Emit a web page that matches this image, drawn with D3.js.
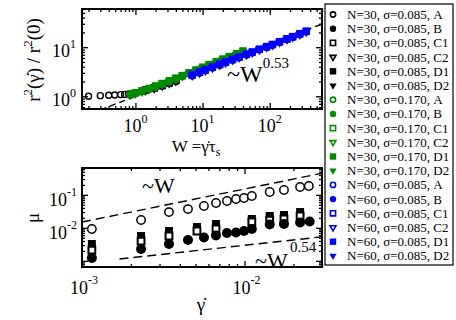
<!DOCTYPE html>
<html>
<head>
<meta charset="utf-8">
<script src="https://cdn.jsdelivr.net/npm/d3@7"></script>
<style>
  body { margin: 0; background: #fff; }
  svg { display: block; }
  text { font-family: "Liberation Serif", "DejaVu Serif", serif; fill: #000; }
</style>
</head>
<body>
<svg id="chart" width="456" height="320"></svg>
<script>
// ---------- data ----------
const seriesNames = ["A", "B", "C1", "C2", "D1", "D2"];
const groupLabels = ["N=30, σ=0.085", "N=30, σ=0.170", "N=60, σ=0.085"];

// top panel: r^2(gamma)/r^2(0) vs W
const blackW = [0.2, 0.3, 0.4, 0.49, 0.6, 0.69, 0.79, 0.87, 0.97, 1.4, 1.9, 2.5, 3.2, 4.0];
const blackR2 = [
  [1.00, 1.03, 1.05, 1.06, 1.08, 1.09, 1.12, 1.13, 1.17, 1.33, 1.48, 1.65, 1.85, 2.05],
  [null, null, null, null, null, null, null, null, null, 1.28, 1.42, 1.60, 1.80, 2.00],
  [null, null, null, null, null, null, null, null, null, 1.32, 1.47, 1.66, 1.87, 2.08],
  [null, null, null, null, null, null, null, null, null, 1.30, 1.45, 1.63, 1.83, 2.03],
  [null, null, null, null, null, null, null, null, null, 1.35, 1.50, 1.70, 1.92, 2.12],
  [null, null, null, null, null, null, null, null, null, 1.31, 1.46, 1.65, 1.86, 2.06]
];
const greenW = [0.85, 1.0, 1.25, 1.6, 2.0, 2.5, 3.2, 4.0, 5.0, 6.3, 8.0, 10, 12.5, 16, 20, 25, 32, 40];
const greenR2 = [
  [1.08, 1.14, 1.25, 1.40, 1.56, 1.76, 2.00, 2.25, 2.55, 2.90, 3.30, 3.75, 4.25, 4.85, 5.50, 6.20, 7.10, 8.00],
  [1.05, 1.12, 1.23, 1.38, 1.54, 1.73, 1.97, 2.22, 2.52, 2.86, 3.25, 3.70, 4.20, 4.80, 5.45, 6.10, 7.00, 7.90],
  [1.10, 1.17, 1.28, 1.43, 1.60, 1.80, 2.05, 2.30, 2.62, 2.98, 3.40, 3.85, 4.38, 5.00, 5.65, 6.40, 7.30, 8.25],
  [1.07, 1.13, 1.24, 1.39, 1.55, 1.75, 1.99, 2.24, 2.54, 2.88, 3.28, 3.72, 4.22, 4.82, 5.48, 6.15, 7.05, 7.95],
  [1.12, 1.19, 1.30, 1.46, 1.63, 1.84, 2.09, 2.35, 2.67, 3.04, 3.47, 3.93, 4.47, 5.10, 5.78, 6.52, 7.45, 8.40],
  [1.09, 1.16, 1.27, 1.42, 1.58, 1.78, 2.03, 2.28, 2.59, 2.95, 3.36, 3.80, 4.32, 4.93, 5.58, 6.32, 7.20, 8.15]
];
const blueW = [7, 9, 11, 14, 18, 22, 28, 35, 45, 55, 70, 90, 110, 140, 180, 220, 280, 350];
const blueR2 = [
  [2.65, 3.00, 3.35, 3.80, 4.35, 4.85, 5.50, 6.15, 7.00, 7.75, 8.85, 10.0, 11.1, 12.6, 14.4, 16.0, 18.2, 20.6],
  [2.60, 2.95, 3.30, 3.75, 4.28, 4.78, 5.42, 6.05, 6.90, 7.65, 8.72, 9.90, 10.9, 12.4, 14.2, 15.8, 17.9, 20.3],
  [2.72, 3.08, 3.44, 3.90, 4.45, 4.97, 5.62, 6.28, 7.15, 7.92, 9.02, 10.2, 11.3, 12.9, 14.7, 16.3, 18.6, 21.0],
  [2.62, 2.97, 3.32, 3.77, 4.31, 4.81, 5.46, 6.10, 6.95, 7.70, 8.78, 9.95, 11.0, 12.5, 14.3, 15.9, 18.0, 20.4],
  [2.78, 3.15, 3.52, 3.98, 4.54, 5.06, 5.73, 6.40, 7.28, 8.06, 9.18, 10.4, 11.5, 13.1, 15.0, 16.6, 18.9, 21.4],
  [2.68, 3.04, 3.40, 3.85, 4.40, 4.91, 5.56, 6.22, 7.08, 7.84, 8.94, 10.1, 11.2, 12.7, 14.5, 16.2, 18.4, 20.8]
];

// bottom panel: mu vs shear rate (N=30, sigma=0.085)
const rateA = [1.15e-3, 2.31e-3, 3.43e-3, 4.49e-3, 5.63e-3, 6.68e-3, 7.8e-3, 8.87e-3, 9.93e-3, 1.11e-2, 1.43e-2, 1.75e-2, 2.2e-2, 2.49e-2];
const muA   = [9.2e-3, 1.72e-2, 3.0e-2, 3.7e-2, 4.6e-2, 5.65e-2, 6.5e-2, 7.5e-2, 8.0e-2, 9.2e-2, 0.122, 0.14, 0.172, 0.185];
const rateB = [1.15e-3, 2.31e-3, 3.43e-3, 4.49e-3, 5.63e-3, 6.68e-3, 7.8e-3, 8.87e-3, 9.93e-3, 1.11e-2, 1.43e-2, 1.75e-2, 2.2e-2, 2.52e-2];
const muB   = [1.22e-3, 2.28e-3, 3.23e-3, 4.27e-3, 5.08e-3, 5.85e-3, 6.96e-3, 7.21e-3, 8.0e-3, 9.2e-3, 1.26e-2, 1.30e-2, 1.45e-2, 1.55e-2];
const rateC = [1.15e-3, 2.31e-3, 3.43e-3, 5.1e-3, 6.68e-3, 1.11e-2, 1.43e-2, 1.75e-2, 2.2e-2];
const muC1  = [2.12e-3, 3.98e-3, 5.65e-3, 8.0e-3, 9.2e-3, 1.5e-2, 1.72e-2, 1.85e-2, 2.28e-2];
const muD1  = [3.23e-3, 5.65e-3, 8.0e-3, 1.06e-2, 1.30e-2, 1.85e-2, 2.28e-2, 2.44e-2, 3.01e-2];

// guide lines  y = coef * x^exp
const fitTop = { coef: 1.0, exp: 0.53, from: 0.16, to: 600 };
const fitLinear = { coef: 15, exp: 1.0, from: 1e-3, to: 3e-2 };
const fitSlow = { coef: 0.0355, exp: 0.54, from: 1.7e-3, to: 3e-2 };

// ---------- styles ----------
const groupColors = ["#000000", "#008b00", "#0000ff"];
const seriesShapes = [
  { type: "circle", open: true }, { type: "circle", open: false },
  { type: "square", open: true }, { type: "tri", open: true },
  { type: "square", open: false }, { type: "tri", open: false }
];

const svg = d3.select("#chart");

function addMarker(sel, shape, cx, cy, s, color, sw, openFill) {
  let type, area;
  if (shape.type === "circle") { type = d3.symbolCircle; area = Math.PI * s * s; }
  else if (shape.type === "square") { type = d3.symbolSquare; area = 4 * s * s; }
  else { type = d3.symbolTriangle; area = Math.sqrt(3) * s * s * 1.3; }
  const p = sel.append("path")
    .attr("d", d3.symbol().type(type).size(area)())
    .attr("transform", `translate(${cx},${cy})` + (shape.type === "tri" ? " rotate(180)" : ""));
  if (shape.open) p.attr("fill", openFill).attr("stroke", color).attr("stroke-width", sw);
  else p.attr("fill", color).attr("stroke", "none");
  return p;
}

function logTicks(lo, hi) {
  const major = [], minor = [];
  for (let e = Math.floor(Math.log10(lo)); e <= Math.ceil(Math.log10(hi)); e++) {
    for (let m = 1; m <= 9; m++) {
      const v = m * Math.pow(10, e);
      if (v < lo * 0.999 || v > hi * 1.001) continue;
      (m === 1 ? major : minor).push(v);
    }
  }
  return { major, minor };
}

function panel(left, top, w, h, xDom, yDom, id) {
  const x = d3.scaleLog().domain(xDom).range([0, w]);
  const y = d3.scaleLog().domain(yDom).range([h, 0]);
  const g = svg.append("g").attr("transform", `translate(${left},${top})`);
  svg.append("clipPath").attr("id", id).append("rect").attr("x", 0).attr("y", 0).attr("width", w).attr("height", h);

  const xt = logTicks(xDom[0], xDom[1]), yt = logTicks(yDom[0], yDom[1]);
  const axes = [
    [d3.axisBottom(x), `translate(0,${h})`, xt],
    [d3.axisTop(x), "translate(0,0)", xt],
    [d3.axisLeft(y), "translate(0,0)", yt],
    [d3.axisRight(y), `translate(${w},0)`, yt]
  ];
  axes.forEach(([ax, tr, t]) => {
    [[t.major, 6], [t.minor, 3]].forEach(([vals, len]) => {
      const a = g.append("g").attr("transform", tr)
        .call(ax.tickValues(vals).tickSize(-len).tickSizeOuter(0).tickFormat(""));
      a.select(".domain").remove();
      a.selectAll("line").attr("stroke", "#000").attr("stroke-width", 1.3);
    });
  });
  const plot = g.append("g").attr("clip-path", `url(#${id})`);
  return { x, y, g, plot, w, h, left, top };
}

function powLabel(x, y, exp, anchor, fs, sfs, supDy) {
  const t = svg.append("text").attr("x", x).attr("y", y).attr("text-anchor", anchor).attr("font-size", fs);
  t.append("tspan").text("10");
  t.append("tspan").attr("dy", supDy).attr("font-size", sfs).text(exp);
}

function fitLine(p, fit, dash) {
  const line = d3.line().x(d => p.x(d)).y(d => p.y(fit.coef * Math.pow(d, fit.exp)));
  p.plot.append("path").attr("d", line([fit.from, fit.to]))
    .attr("fill", "none").attr("stroke", "#000").attr("stroke-width", 1.4).attr("stroke-dasharray", dash);
}

// ---------- top panel ----------
const pt = panel(82, 9, 240, 100, [0.16, 600], [0.55, 60], "clipTop");
fitLine(pt, fitTop, "6,4");
[[blackW, blackR2], [greenW, greenR2], [blueW, blueR2]].forEach(([ws, rows], gi) => {
  rows.forEach((vals, si) => {
    vals.forEach((v, i) => {
      if (v == null) return;
      const sh = seriesShapes[si];
      addMarker(pt.plot, sh, pt.x(ws[i]), pt.y(v), sh.open ? 3.0 : 3.5, groupColors[gi], 1.4, "none");
    });
  });
});
svg.append("rect").attr("x", 82).attr("y", 9).attr("width", 240).attr("height", 100)
  .attr("fill", "none").attr("stroke", "#000").attr("stroke-width", 2);

[1, 10, 100].forEach(v => powLabel(82 + pt.x(v), 132, String(Math.round(Math.log10(v))), "middle", 18, 12, -9));
[1, 10].forEach(v => powLabel(76, 9 + pt.y(v) + 10, String(Math.round(Math.log10(v))), "end", 18, 12, -9));

const tx = svg.append("text").attr("x", 196).attr("y", 152).attr("text-anchor", "middle").attr("font-size", 17);
tx.append("tspan").text("W =γ\u0307τ");
tx.append("tspan").attr("font-size", 12).attr("dy", 4).text("s");

const ty = svg.append("text").attr("transform", "translate(40,60) rotate(-90)")
  .attr("text-anchor", "middle").attr("font-size", 19);
ty.append("tspan").text("r");
ty.append("tspan").attr("font-size", 13).attr("dy", -8).text("2");
ty.append("tspan").attr("dy", 8).text("(γ\u0307) / r");
ty.append("tspan").attr("font-size", 13).attr("dy", -8).text("2");
ty.append("tspan").attr("dy", 8).text("(0)");

const a1 = svg.append("text").attr("x", 227).attr("y", 82).attr("font-size", 24);
a1.append("tspan").text("~W");
a1.append("tspan").attr("font-size", 15).attr("dy", -14).text("0.53");

// ---------- bottom panel ----------
const pb = panel(82, 168, 240, 99, [1e-3, 3e-2], [6.5e-4, 0.65], "clipBot");
fitLine(pb, fitLinear, "9,5");
fitLine(pb, fitSlow, "9,5");
const blk = groupColors[0];
rateC.forEach((r, i) => addMarker(pb.plot, seriesShapes[4], pb.x(r), pb.y(muD1[i]), 4, blk, 2, "#fff"));
rateC.forEach((r, i) => addMarker(pb.plot, seriesShapes[2], pb.x(r), pb.y(muC1[i]), 3.4, blk, 2, "#fff"));
rateB.forEach((r, i) => addMarker(pb.plot, seriesShapes[1], pb.x(r), pb.y(muB[i]), 5, blk, 1.5, "#fff"));
rateA.forEach((r, i) => addMarker(pb.plot, seriesShapes[0], pb.x(r), pb.y(muA[i]), 4.2, blk, 1.5, "#fff"));
svg.append("rect").attr("x", 82).attr("y", 168).attr("width", 240).attr("height", 99)
  .attr("fill", "none").attr("stroke", "#000").attr("stroke-width", 2);

[1e-3, 1e-2].forEach(v => powLabel(82 + pb.x(v) + 2, 294, "-" + Math.round(-Math.log10(v)), "middle", 18, 12, -10));
[1e-1, 1e-2].forEach(v => powLabel(77, 168 + pb.y(v) + 11, "-" + Math.round(-Math.log10(v)), "end", 18, 12, -10));

svg.append("text").attr("transform", "translate(39,218) rotate(-90)").attr("text-anchor", "middle")
  .attr("font-size", 19).text("μ");
svg.append("text").attr("x", 201).attr("y", 311).attr("text-anchor", "middle").attr("font-size", 19).text("γ\u0307");

svg.append("text").attr("x", 142).attr("y", 193).attr("font-size", 22).text("~W");
svg.append("text").attr("x", 255).attr("y", 268).attr("font-size", 22).text("~W");
svg.append("text").attr("x", 290).attr("y", 252).attr("font-size", 15).text("0.54");

// ---------- legend ----------
const lg = svg.append("g");
lg.append("rect").attr("x", 325).attr("y", 4).attr("width", 128).attr("height", 261)
  .attr("fill", "#fff").attr("stroke", "#000").attr("stroke-width", 1.2);
groupLabels.forEach((gl, gi) => {
  seriesNames.forEach((sn, si) => {
    const row = gi * seriesNames.length + si;
    const yy = 14.5 + row * 14.2;
    const sh = seriesShapes[si];
    addMarker(lg, sh, 333, yy, sh.open ? 2.6 : 3.2, groupColors[gi], 1.6, "#fff");
    lg.append("text").attr("x", 347).attr("y", yy).attr("dy", "0.35em").attr("font-size", 13)
      .text(`${gl}, ${sn}`);
  });
});
</script>
</body>
</html>
